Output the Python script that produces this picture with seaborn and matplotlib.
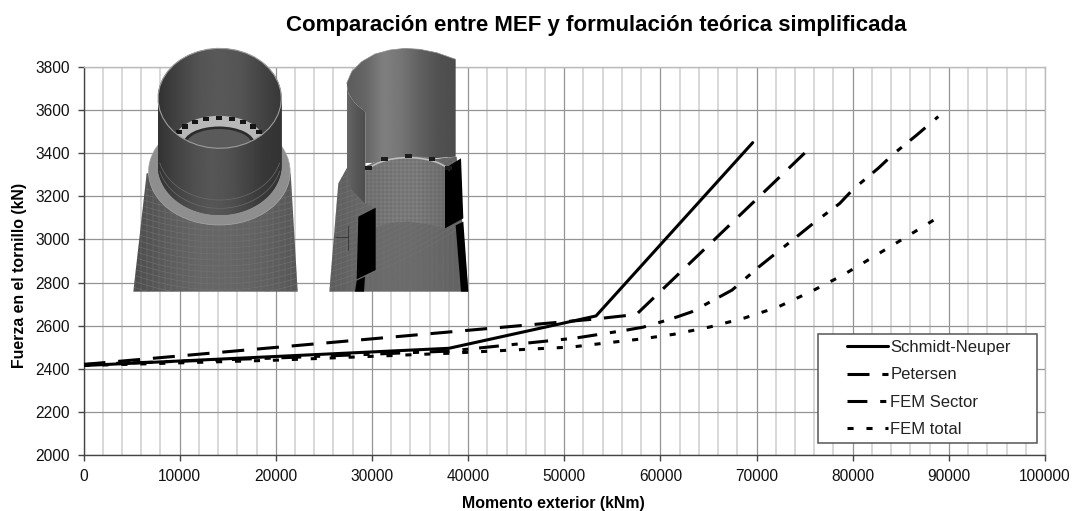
import numpy as np
import pandas as pd
import matplotlib
matplotlib.use('Agg')
import matplotlib.pyplot as plt
from matplotlib.patches import Polygon, Rectangle, Ellipse
import seaborn as sns

# values
schmidt_x = [0, 38000, 53300, 69600]
schmidt_y = [2415, 2495, 2645, 3449]
petersen_x = [0, 53000, 57500, 75500]
petersen_y = [2420, 2630, 2652, 3422]
sector_x = [0, 20000, 38000, 51100, 56150, 58200, 61100, 63250, 66000, 67450, 70250, 71900,
            74300, 76100, 78650, 80050, 82650, 84200, 86650, 88900]
sector_y = [2420, 2450, 2482, 2542, 2577, 2593, 2631, 2664, 2730, 2765, 2873, 2932,
            3017, 3082, 3167, 3233, 3330, 3395, 3484, 3570]
total_x = [0, 20000, 38000, 50800, 54400, 57950, 61400, 65150, 68700, 72200, 75750, 79000,
           82100, 85400, 88900]
total_y = [2415, 2440, 2472, 2501, 2520, 2538, 2560, 2594, 2635, 2686, 2760, 2835,
           2918, 3007, 3103]

names = ['Schmidt-Neuper', 'Petersen', 'FEM Sector', 'FEM total']
x_ticks = list(range(0, 100001, 10000))
y_ticks = list(range(2000, 3801, 200))

df = pd.concat([
    pd.DataFrame({'x': schmidt_x, 'y': schmidt_y, 'serie': names[0]}),
    pd.DataFrame({'x': petersen_x, 'y': petersen_y, 'serie': names[1]}),
    pd.DataFrame({'x': sector_x, 'y': sector_y, 'serie': names[2]}),
    pd.DataFrame({'x': total_x, 'y': total_y, 'serie': names[3]}),
])

sns.set_style('white')
plt.rcParams['font.family'] = ['Liberation Sans', 'DejaVu Sans']

W, H = 1072, 511
fig = plt.figure(figsize=(W / 100, H / 100), dpi=100)
ax = fig.add_axes([83.5 / W, (H - 455) / H, 961.5 / W, 388 / H])

dash_map = {names[0]: '', names[1]: (7.2, 4.2), names[2]: (6.5, 4.2, 2, 3.5), names[3]: (2, 4.2)}
sns.lineplot(data=df, x='x', y='y', hue='serie', style='serie', hue_order=names, style_order=names,
             palette=['black'] * 4, dashes=dash_map, lw=2.2, sort=False, errorbar=None, ax=ax, zorder=3)

ax.set_xlim(0, 100000)
ax.set_ylim(2000, 3800)
ax.set_xticks(x_ticks)
ax.set_yticks(y_ticks)
ax.set_xticks(range(0, 100001, 2000), minor=True)
ax.grid(True, which='major', color='#949494', lw=0.9)
ax.grid(True, which='minor', axis='x', color='#d6d6d6', lw=1.3)
ax.set_axisbelow(True)
ax.tick_params(which='major', length=4, width=1, color='#444444', labelsize=11.2, pad=6,
               left=True, bottom=True, labelcolor='#111111')
ax.tick_params(which='minor', length=0)
for side in ['left', 'bottom']:
    ax.spines[side].set_color('#444444')
    ax.spines[side].set_linewidth(1)
for side in ['top', 'right']:
    ax.spines[side].set_color('#bbbbbb')
    ax.spines[side].set_linewidth(1)

ax.set_xlabel('')
ax.set_ylabel('')
fig.text(596 / W, 1 - 26 / H, 'Comparación entre MEF y formulación teórica simplificada',
         ha='center', va='center', fontsize=16, fontweight='bold', color='black')
fig.text(553 / W, 1 - 503 / H, 'Momento exterior (kNm)', ha='center', va='center',
         fontsize=11.4, fontweight='bold', color='black')
fig.text(20 / W, 1 - 275 / H, 'Fuerza en el tornillo (kN)', ha='center', va='center',
         rotation=90, fontsize=11.4, fontweight='bold', color='black')

# legend box
ax.add_patch(Rectangle((818 / W, (H - 443) / H), 219 / W, 109 / H, transform=fig.transFigure,
                       fc='white', ec='#555555', lw=1.1, zorder=4))
handles, labels = ax.get_legend_handles_labels()
ax.legend(handles, labels, loc='upper left', bbox_to_anchor=(847 / W, (H - 340) / H),
          bbox_transform=fig.transFigure, frameon=False, fontsize=12, borderpad=0, borderaxespad=0,
          handlelength=2.45, handletextpad=0.15, labelspacing=0.74, labelcolor='#222222')

# tower renderings over the grid, in a small overlay axes
over = fig.add_axes([80 / W, (H - 300) / H, 400 / W, 260 / H], zorder=2)
over.axis('off')
over.patch.set_alpha(0)


def arc(cx, cy, rx, ry, a0, a1, n=40):
    t = np.radians(np.linspace(a0, a1, n))
    return list(zip(cx + rx * np.cos(t), cy + ry * np.sin(t)))


def grad_fill(pts, levels, z=1):
    pts = np.array(pts)
    x0, x1 = pts[:, 0].min(), pts[:, 0].max()
    y0, y1 = pts[:, 1].min(), pts[:, 1].max()
    g = np.interp(np.linspace(0, 1, 200), np.linspace(0, 1, len(levels)), levels)[None, :]
    im = over.imshow(g, extent=(x0, x1, y1, y0), cmap='gray', vmin=0, vmax=1, aspect='auto', zorder=z)
    poly = Polygon(pts, closed=True, transform=over.transData, fc='none', ec='none')
    over.add_patch(poly)
    im.set_clip_path(poly)


def mesh(pts, xs, ys, color='#8a8a8a', z=2, lw=0.35):
    poly = Polygon(pts, closed=True, transform=over.transData, fc='none', ec='none')
    over.add_patch(poly)
    for v in xs:
        ln, = over.plot([v, v], [0, 780], color=color, lw=lw, zorder=z)
        ln.set_clip_path(poly)
    for v, sag in ys:
        t = np.linspace(0, 1200, 60)
        ln, = over.plot(t, v + sag * (1 - ((t - 420) / 300) ** 2), color=color, lw=lw, zorder=z)
        ln.set_clip_path(poly)


# left tower
body = [(160, 755), (200, 400), (632, 400), (653, 755)]
grad_fill(body, [0.30, 0.36, 0.40, 0.40, 0.38, 0.34], z=1)
mesh(body, range(165, 655, 18), [(v, 60) for v in range(420, 760, 18)], color='#747474')
over.add_patch(Ellipse((418, 395), 425, 320, fc='#8e8e8e', ec='#a8a8a8', lw=0.5, zorder=3))
wall = arc(419, 175, 186, 150, 180, 360) + arc(419, 375, 186, 150, 0, 180)
grad_fill(wall, [0.22, 0.26, 0.31, 0.34, 0.32, 0.26, 0.22, 0.20], z=4)
grad_fill(arc(419, 175, 184, 150, 0, -360), [0.20, 0.27, 0.33, 0.35, 0.33, 0.27, 0.22], z=5)
over.add_patch(Ellipse((417, 300), 265, 145, fc='#b8b8b8', ec='none', zorder=6))
over.add_patch(Ellipse((417, 312), 215, 105, fc='#2c2c2c', ec='none', zorder=6))
over.add_patch(Ellipse((417, 316), 200, 98, fc='#5a5a5a', ec='none', zorder=6))
for a in np.linspace(200, 340, 9):
    cx, cy = arc(417, 300, 128, 66, a, a, n=1)[0]
    over.add_patch(Rectangle((cx - 9, cy - 7), 18, 13, fc='#161616', ec='none', zorder=7))
# front of the wall covers the flange below the rim
front = arc(419, 175, 186, 150, 0, 180, n=60) + arc(419, 375, 186, 150, 180, 0, n=60)
grad_fill(front, [0.20, 0.26, 0.31, 0.34, 0.32, 0.27, 0.22, 0.20], z=7.5)
over.plot(*zip(*arc(419, 175, 185, 150, 0, 360)), color='#9c9c9c', lw=0.8, zorder=8)
over.plot(*zip(*arc(419, 330, 186, 150, 15, 165)), color='#6a6a6a', lw=0.5, zorder=8)
over.plot(*zip(*arc(419, 355, 186, 150, 15, 165)), color='#6a6a6a', lw=0.5, zorder=8)

# right tower
body2 = [(748, 755), (775, 430), (800, 385), (1130, 350), (1165, 755)]
grad_fill(body2, [0.36, 0.40, 0.42, 0.42, 0.40, 0.38], z=1)
mesh(body2, range(752, 1165, 16), [(v, 40) for v in range(400, 760, 16)], color='#747474')
top_edge = [(800, 130), (815, 95), (845, 65), (885, 42), (930, 30), (975, 25), (1020, 28), (1070, 38), (1127, 58)]
back = top_edge + [(1127, 350), (855, 370), (855, 215), (825, 190), (805, 160)]
grad_fill(back, [0.36, 0.40, 0.50, 0.46, 0.38, 0.32, 0.30], z=3)
flap = [(800, 130), (800, 400), (815, 450), (855, 490), (855, 215), (825, 190), (805, 160)]
grad_fill(flap, [0.40, 0.34, 0.30], z=4)
over.plot([855, 855], [215, 490], color='#8e8e8e', lw=0.5, zorder=5)
over.plot(*zip(*top_edge), color='#8e8e8e', lw=0.5, zorder=5)
sect = [(858, 378), (905, 358), (985, 348), (1060, 352), (1097, 375), (1097, 565), (1040, 552),
        (985, 545), (930, 548), (887, 562), (887, 505), (858, 490)]
grad_fill(sect, [0.46, 0.50, 0.50, 0.44], z=5)
mesh(sect, range(860, 1100, 12), [(v, 0) for v in range(360, 565, 12)], color='#606060', z=6)
over.add_patch(Polygon([(1095, 385), (1143, 355), (1150, 535), (1095, 565)], fc='black', ec='none', zorder=7))
over.add_patch(Polygon([(835, 530), (887, 503), (887, 690), (830, 718)], fc='black', ec='none', zorder=7))
over.add_patch(Polygon([(1127, 556), (1150, 545), (1165, 755), (1143, 755)], fc='black', ec='none', zorder=7))
over.add_patch(Polygon([(830, 722), (855, 710), (852, 755), (825, 755)], fc='black', ec='none', zorder=7))
over.plot([765, 805], [592, 592], color='#333333', lw=0.6, zorder=7)
over.plot([803, 803], [558, 630], color='#333333', lw=0.6, zorder=7)
for a in np.linspace(205, 335, 5):
    cx, cy = arc(985, 410, 132, 62, a, a, n=1)[0]
    over.add_patch(Rectangle((cx - 10, cy - 7), 20, 13, fc='#1c1c1c', ec='none', zorder=8))
over.plot(*zip(*arc(985, 415, 135, 62, 205, 335)), color='#bdbdbd', lw=1.2, zorder=7)

over.set_xlim(0, 1200)
over.set_ylim(780, 0)

plt.savefig('out.png', dpi=100)
